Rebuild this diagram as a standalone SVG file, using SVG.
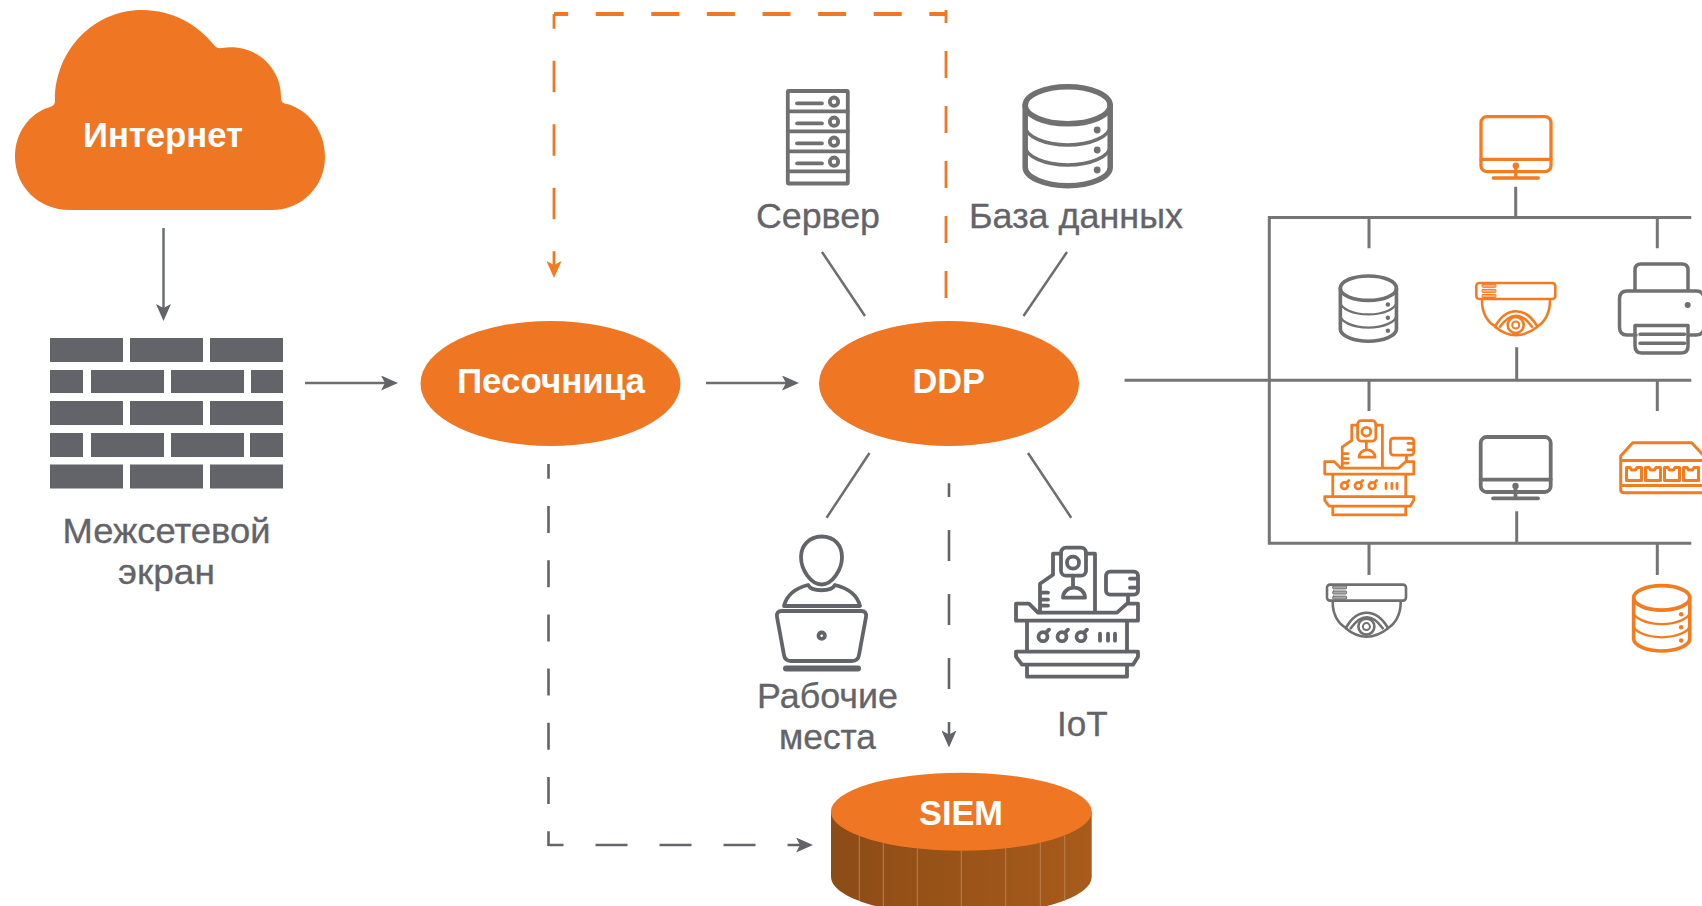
<svg xmlns="http://www.w3.org/2000/svg" xmlns:xlink="http://www.w3.org/1999/xlink" width="1702" height="906" viewBox="0 0 1702 906">
<style>
text{font-family:"Liberation Sans",Arial,sans-serif}
.lbl{font-size:34.5px;fill:#636469;stroke:#636469;stroke-width:.3px}
.w{font-size:34.5px;font-weight:bold;fill:#fff}
.fill{fill:#ef7623}
.brick{fill:#636469}
.c{fill:none;stroke:#6d6e71;stroke-width:2.5}
.d{fill:none;stroke:#636469;stroke-width:2.6}
.o{fill:none;stroke:#f07724;stroke-width:2.8}
.n{fill:none;stroke:#757575;stroke-width:3}
.gr{color:#707070}
.or{color:#f47b20}
.ic{fill:none;stroke:currentColor;stroke-linecap:round;stroke-linejoin:round}
.dot{fill:currentColor;stroke:none}
</style>
<defs>
<marker id="ag" markerUnits="userSpaceOnUse" viewBox="0 0 17 15" refX="5" refY="7.5" markerWidth="17" markerHeight="15" orient="auto"><path d="M0 0L17 7.5L0 15L4 7.5Z" fill="#636469"/></marker>
<marker id="ao" markerUnits="userSpaceOnUse" viewBox="0 0 17 15" refX="5" refY="7.5" markerWidth="17" markerHeight="15" orient="auto"><path d="M0 0L17 7.5L0 15L4 7.5Z" fill="#f47b20"/></marker>
<linearGradient id="wall" x1="0" x2="1" y1="0" y2="0"><stop offset="0" stop-color="#8c4c16"/><stop offset="1" stop-color="#a85b1b"/></linearGradient>
<g id="db" class="ic"><ellipse cx="45" cy="21" rx="42.5" ry="18.5" stroke-width="5.5"/><path stroke-width="5.5" d="M2.5 21V83C2.5 93 22 101.5 45 101.5C68 101.5 87.5 93 87.5 83V21"/><path stroke-width="3.4" d="M2.5 42C2.5 52 22 60.7 45 60.7C68 60.7 87.5 52 87.5 42M2.5 62C2.5 72 22 80.7 45 80.7C68 80.7 87.5 72 87.5 62"/><circle class="dot" cx="74.5" cy="45.7" r="3.4"/><circle class="dot" cx="74.5" cy="65.7" r="3.4"/><circle class="dot" cx="74.5" cy="85.7" r="3.4"/></g>
<g id="mon" class="ic"><rect x="1.7" y="1.7" width="70" height="55" rx="6"/><path d="M1.7 44.3H71.7M36.5 54V63M14 63H59"/><circle class="dot" cx="36.5" cy="50.7" r="3.2"/></g>
<g id="cam" class="ic" stroke-width="2.6"><rect x="1.3" y="1.3" width="79" height="16" rx="3"/><g stroke-width="1" fill="currentColor" fill-opacity=".6"><rect x="7" y="2.6" width="14" height="3" rx="1"/><rect x="7" y="7.7" width="14" height="3" rx="1"/><rect x="7" y="12.8" width="14" height="3" rx="1"/></g><path d="M7 19C7 32 13 41 21 45M75 19C75 32 69 41 62 45M20 45C26 34 34 29.5 41 29.5C48 29.5 56 34 62.5 45C56 50 48 53.5 41 53.5C34 53.5 26 50 20 45ZM25 45C30 38 36 34 41 34C46 34 52 38 57 45"/><circle cx="40.7" cy="43.3" r="8"/><circle cx="40.7" cy="43.3" r="3.5" stroke-width="2"/></g>
<g id="iot" class="ic" stroke-width="3.8"><path d="M1 57H14L23 66H102L112 57H123V74H1ZM12 74V105M112 74V105M1 105H123V110L118 118H7L1 110ZM12 118V130H112V118M25 64V37L38 28V7H46M71 7H80V64M25 46H33M25 53H33M25 59H33M58 29V41M48 51C48 45 53 41 59 41C65 41 70 45 70 51ZM113 48V57M115 32H123M115 41H123"/><rect x="46" y="1" width="25" height="28" rx="5"/><circle cx="58" cy="16" r="6"/><rect x="91" y="25" width="32" height="23" rx="4"/><circle cx="28" cy="90" r="4.5"/><circle cx="47" cy="90" r="4.5"/><circle cx="66" cy="90" r="4.5"/><path d="M31 86L34 83M50 86L53 83M69 86L72 83M85 87V94M93 87V94M100 87V94"/></g>
</defs>

<g id="connectors">
<path class="c" d="M163.5 228V309" marker-end="url(#ag)"/>
<path class="c" d="M305 383H386" marker-end="url(#ag)"/>
<path class="c" d="M706 383H787" marker-end="url(#ag)"/>
<path class="c" d="M822 252L865 316M1067 252L1023.5 316M869.500 453L826.600 517.700M1028 453L1071.200 517.700"/>
<path class="o" style="stroke-width:4" stroke-dasharray="28 27.6" stroke-dashoffset="13.9" d="M554 14H946"/>
<path class="o" stroke-dasharray="27 28" d="M946 298V10"/>
<path class="o" stroke-dasharray="31.5 32" stroke-dashoffset="16.8" d="M554 14V266" marker-end="url(#ao)"/>
<path class="d" stroke-dasharray="27 27.2" stroke-dashoffset="12.2" d="M548.500 464V846"/>
<path class="d" stroke-dasharray="32 32" stroke-dashoffset="17" d="M548.500 845H801" marker-end="url(#ag)"/>
<path class="d" stroke-dasharray="31 33" stroke-dashoffset="17.3" d="M949 483.3V735.500" marker-end="url(#ag)"/>
<path class="n" d="M1691.3 217.5H1269.3V543.3H1691.3M1124.6 380.300H1691.3M1515.7 186.7V217.3M1369 217.3V248.3M1657.3 217.3V248.3M1516.7 347.3V380M1369 380V411M1657.3 380V411M1516.7 511.3V543.3M1369 543.3V575M1657.3 543.3V575"/>
</g>

<g id="internet">
<path class="fill" d="M70 210C38 210 15 186 15 157C15 132 30 113 50 107C54 105.500 55 104 55 100C55 50 94 10 142 10C172 10 197 24 214 45C216 48 219 48.500 222 48C256 43 281 68 281 97C281 102 283 103.500 287 104C309 110 325 131 325 157C325 186 302 210 272 210Z"/>
<text class="w" x="83" y="147" textLength="160" lengthAdjust="spacingAndGlyphs">Интернет</text>
</g>

<g id="firewall">
<g class="brick">
<rect x="50" y="338" width="73" height="24"/><rect x="130" y="338" width="73" height="24"/><rect x="210" y="338" width="73" height="24"/>
<rect x="50" y="370" width="33" height="23"/><rect x="91" y="370" width="73" height="23"/><rect x="171" y="370" width="73" height="23"/><rect x="251" y="370" width="32" height="23"/>
<rect x="50" y="401" width="73" height="24"/><rect x="130" y="401" width="73" height="24"/><rect x="210" y="401" width="73" height="24"/>
<rect x="50" y="433" width="33" height="24"/><rect x="91" y="433" width="73" height="24"/><rect x="171" y="433" width="73" height="24"/><rect x="250" y="433" width="33" height="24"/>
<rect x="50" y="464.500" width="73" height="24"/><rect x="130" y="464.500" width="73" height="24"/><rect x="210" y="464.500" width="73" height="24"/>
</g>
<text class="lbl" x="62.500" y="542.500" textLength="208" lengthAdjust="spacingAndGlyphs">Межсетевой</text>
<text class="lbl" x="118" y="584" textLength="97" lengthAdjust="spacingAndGlyphs">экран</text>
</g>

<g id="sandbox"><ellipse class="fill" cx="550.500" cy="383.500" rx="130" ry="62.500"/><text class="w" x="457" y="393" textLength="188" lengthAdjust="spacingAndGlyphs">Песочница</text></g>
<g id="ddp"><ellipse class="fill" cx="949" cy="383.500" rx="130" ry="62.500"/><text class="w" x="912.400" y="393" textLength="72.500" lengthAdjust="spacingAndGlyphs">DDP</text></g>

<g id="server" class="gr">
<g class="ic" stroke-width="3.800"><rect x="787.800" y="91" width="60" height="92.500" rx="1"/><path d="M787.800 111.300H847.800M787.800 131.300H847.800M787.800 151.300H847.800M787.800 171.300H847.800M797 103.300H822M797 123.300H822M797 143.300H822M797 163.300H822"/><circle cx="834" cy="101.700" r="4.200"/><circle cx="834" cy="121.700" r="4.200"/><circle cx="834" cy="141.700" r="4.200"/><circle cx="834" cy="161.700" r="4.200"/></g>
<text class="lbl" x="756" y="228" textLength="124" lengthAdjust="spacingAndGlyphs">Сервер</text>
</g>

<g id="database" class="gr"><use href="#db" transform="translate(1022.700 84.300)"/><text class="lbl" x="969" y="228" textLength="214" lengthAdjust="spacingAndGlyphs">База данных</text></g>

<g id="workplaces" style="color:#636469">
<g class="ic" stroke-width="3.800"><path d="M821.700 536.500C835 536.500 842 546 842 557C842 570 832 584.500 821.700 584.500C811 584.500 801 570 801 557C801 546 809 536.500 821.700 536.500Z"/><path d="M784 606C787 594 796 588 808 585C812 592 831 592 835 585C847 588 857 594 860 606Z"/><path d="M782 611H861Q867 611 866 617L859 655Q858 661 852 661H791Q785 661 784 655L777 617Q776 611 782 611Z"/><circle cx="821.700" cy="635.700" r="3.200"/><path d="M786 668.500H858" stroke-width="6"/></g>
<text class="lbl" x="757" y="707.500" textLength="141" lengthAdjust="spacingAndGlyphs">Рабочие</text>
<text class="lbl" x="779" y="748.500" textLength="97" lengthAdjust="spacingAndGlyphs">места</text>
</g>

<g id="iot-main" style="color:#636469"><use href="#iot" transform="translate(1015 546.700)"/><text class="lbl" x="1057" y="736.300" textLength="50.700" lengthAdjust="spacingAndGlyphs">IoT</text></g>

<g id="siem">
<path fill="url(#wall)" d="M831 811.700V876.700C831 898 889 915.700 961.300 915.700C1033 915.700 1091.700 898 1091.700 876.700V811.700Z"/>
<path stroke="#b98052" stroke-width="1" fill="none" d="M859.300 836V901M883.300 843V906M917.300 848.400V906M961.300 850.700V906M1005.700 848.400V906M1040.300 843V906M1064.700 836V901"/>
<ellipse class="fill" cx="961.300" cy="811.700" rx="130.400" ry="39"/>
<text class="w" x="919" y="825" textLength="84" lengthAdjust="spacingAndGlyphs">SIEM</text>
</g>

<g id="monitor-1" class="or"><use href="#mon" transform="translate(1479.300 115)" stroke-width="3.300"/></g>
<g id="db-2" class="gr"><use href="#db" transform="translate(1338.700 274.300) scale(.66)"/></g>
<g id="camera-1" class="or"><use href="#cam" transform="translate(1475 281.700)"/></g>
<g id="printer" class="gr"><g class="ic" stroke-width="3.500"><path d="M1635 290.700V270Q1635 264 1641 264H1682Q1688 264 1688 270V290.700M1636 335H1627Q1619.500 335 1619.500 327V299Q1619.500 291 1627 291H1696Q1704 291 1704 299V327Q1704 335 1696 335H1688M1635 325.500H1688V346Q1688 353 1681 353H1642Q1635 353 1635 346ZM1640 334.300H1684.500M1640 343.300H1684.500"/><circle class="dot" cx="1687.700" cy="305" r="3"/></g></g>
<g id="iot-2" class="or"><use href="#iot" transform="translate(1324 420) scale(.73)"/></g>
<g id="monitor-2" class="gr"><use href="#mon" transform="translate(1479 435.300)" stroke-width="3.800"/></g>
<g id="switch" class="or"><g class="ic" stroke-width="3"><path d="M1620.700 456L1632.700 442.700H1691.700L1704 456V492.700H1624Q1620.700 492.700 1620.700 489.500ZM1620.700 460.500H1704M1620.700 485.500H1704"/><path d="M1626.500 467.500H1630L1631.500 470H1635.500L1637 467.500H1641.500V480.500H1626.500ZM1645.500 467.500H1649L1650.500 470H1654.500L1656 467.500H1660.500V480.500H1645.500ZM1664.500 467.500H1668L1669.500 470H1673.500L1675 467.500H1679.500V480.500H1664.500ZM1683.500 467.500H1687L1688.500 470H1692.500L1694 467.500H1698.500V480.500H1683.500Z"/></g></g>
<g id="camera-2" class="gr"><use href="#cam" transform="translate(1325.700 583.300)"/></g>
<g id="db-3" class="or"><use href="#db" transform="translate(1632 584) scale(.66)"/></g>
</svg>
